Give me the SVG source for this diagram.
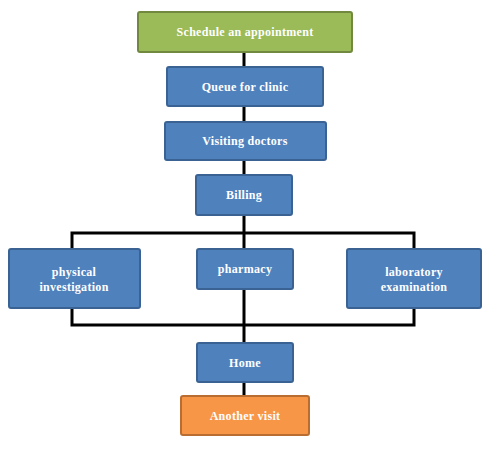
<svg xmlns="http://www.w3.org/2000/svg" width="491" height="453" viewBox="0 0 491 453">
<style>
.box{stroke-width:2}
.blue{fill:#4F81BD;stroke:#3A6293}
.green{fill:#9BBB59;stroke:#71893F}
.orange{fill:#F79646;stroke:#B96D31}
.t{font-family:"Liberation Serif",serif;font-weight:bold;font-size:12px;letter-spacing:0.3px;fill:#FFFFFF;text-anchor:middle}
.c{fill:none;stroke:#000000;stroke-width:3}
</style>
<rect width="491" height="453" fill="#FFFFFF"/>
<g id="connectors">
<line class="c" x1="244" y1="52" x2="244" y2="396"/>
<polyline class="c" points="72,249 72,233 414,233 414,249"/>
<polyline class="c" points="72,308 72,325 414,325 414,308"/>
</g>
<g id="schedule"><rect class="box green" x="138" y="12" width="214" height="40" rx="2"/><text class="t" x="245" y="36">Schedule an appointment</text></g>
<g id="queue"><rect class="box blue" x="167" y="67" width="156" height="39" rx="2"/><text class="t" x="245" y="91">Queue for clinic</text></g>
<g id="visiting"><rect class="box blue" x="165" y="122" width="161" height="38" rx="2"/><text class="t" x="245" y="145">Visiting doctors</text></g>
<g id="billing"><rect class="box blue" x="196" y="175" width="96" height="40" rx="2"/><text class="t" x="244" y="199">Billing</text></g>
<g id="physical"><rect class="box blue" x="9" y="249" width="131" height="59" rx="2"/><text class="t" x="74" y="276">physical</text><text class="t" x="74" y="291">investigation</text></g>
<g id="pharmacy"><rect class="box blue" x="197" y="249" width="96" height="40" rx="2"/><text class="t" x="245" y="273">pharmacy</text></g>
<g id="laboratory"><rect class="box blue" x="347" y="249" width="134" height="59" rx="2"/><text class="t" x="414" y="276">laboratory</text><text class="t" x="414" y="291">examination</text></g>
<g id="home"><rect class="box blue" x="197" y="343" width="96" height="39" rx="2"/><text class="t" x="245" y="367">Home</text></g>
<g id="another"><rect class="box orange" x="181" y="396" width="128" height="39" rx="2"/><text class="t" x="245" y="420">Another visit</text></g>
</svg>
